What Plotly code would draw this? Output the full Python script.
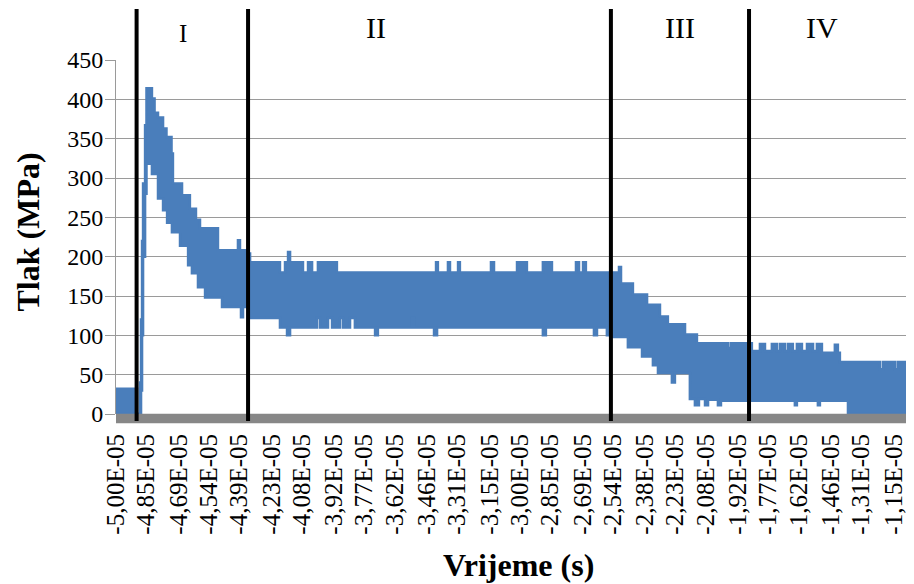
import plotly.graph_objects as go

# Time in units of 1E-05 s, pressure in MPa
upper_t = [-5.000, -4.896, -4.881, -4.876, -4.871, -4.866, -4.856, -4.849, -4.822, -4.809,
           -4.792, -4.767, -4.750, -4.725, -4.718, -4.673, -4.634, -4.604, -4.584, -4.495,
           -4.396, -4.386, -4.351, -4.336, -4.188, -4.163, -4.148, -4.138, -4.074, -4.049,
           -4.029, -4.000, -3.906, -3.415, -3.406, -3.356, -3.346, -3.306, -3.297, -3.143,
           -3.128, -3.014, -2.965, -2.886, -2.841, -2.722, -2.707, -2.687, -2.673, -2.509,
           -2.499, -2.440, -2.370, -2.306, -2.267, -2.182, -2.123, -1.969, -1.955, -1.851,
           -1.811, -1.786, -1.752, -1.727, -1.712, -1.687, -1.672, -1.648, -1.628, -1.603,
           -1.578, -1.548, -1.529, -1.504, -1.440, -1.425, -1.415, -1.217, -1.202, -1.142,
           -1.128, -1.048]
upper_p = [32, 0, 40, 120, 220, 293, 367, 414, 401, 383,
           377, 363, 352, 331, 293, 278, 261, 247, 236, 208,
           221, 208, 204, 193, 180, 193, 206, 193, 180, 193,
           180, 193, 180, 193, 180, 193, 180, 193, 180, 193,
           180, 193, 180, 193, 180, 193, 180, 193, 180, 187,
           166, 152, 139, 124, 114, 101, 90, 84, 90, 80,
           89, 80, 89, 80, 89, 80, 89, 80, 89, 80,
           89, 80, 89, 78, 88, 78, 66, 57, 66, 57,
           66, 66]

lower_t = [-5.000, -4.881, -4.876, -4.871, -4.866, -4.856, -4.849, -4.822, -4.792, -4.767,
           -4.747, -4.723, -4.683, -4.643, -4.624, -4.594, -4.559, -4.475, -4.381, -4.371,
           -4.346, -4.188, -4.153, -4.138, -4.005, -3.990, -3.950, -3.930, -3.891, -3.876,
           -3.841, -3.817, -3.717, -3.703, -3.534, -3.524, -3.425, -3.410, -2.886, -2.871,
           -2.633, -2.618, -2.569, -2.549, -2.465, -2.395, -2.341, -2.316, -2.247, -2.232,
           -2.158, -2.133, -2.113, -2.083, -2.068, -2.019, -2.004, -1.638, -1.628, -1.524,
           -1.514, -1.375, -1.048]
lower_p = [0, 0, 30, 100, 200, 280, 318, 305, 274, 259,
           243, 231, 214, 189, 179, 161, 148, 136, 123, 136,
           122, 110, 100, 110, 122, 110, 122, 110, 122, 110,
           122, 110, 100, 110, 122, 110, 100, 110, 100, 110,
           100, 110, 100, 98, 85, 73, 62, 52, 40, 52,
           19, 11, 19, 11, 18, 11, 17, 11, 17, 11,
           17, 0, 0]

phase_bounds = [-4.898, -4.346, -2.549, -1.865]
phase_names = ["I", "II", "III", "IV"]

tick_vals = [-5.00, -4.85, -4.69, -4.54, -4.39, -4.23, -4.08, -3.92, -3.77, -3.62,
             -3.46, -3.31, -3.15, -3.00, -2.85, -2.69, -2.54, -2.38, -2.23, -2.08,
             -1.92, -1.77, -1.62, -1.46, -1.31, -1.15]
tick_text = [f"{v:.2f}".replace(".", ",") + "E-05" for v in tick_vals]

BLUE = "#4a7ebb"
FONT = "Times New Roman, Liberation Serif, Times, serif"

fig = go.Figure()
fig.add_trace(go.Scatter(x=upper_t, y=upper_p, mode="lines", line=dict(color=BLUE, width=2.5, shape="hv"),
                         hoverinfo="skip", showlegend=False))
fig.add_trace(go.Scatter(x=lower_t, y=lower_p, mode="lines", line=dict(color=BLUE, width=2.5, shape="hv"),
                         fill="tonexty", fillcolor=BLUE, hoverinfo="skip", showlegend=False))

shapes = [dict(type="rect", xref="paper", yref="paper", x0=0, x1=1, y0=-0.026, y1=0.001,
               fillcolor="#878787", line=dict(width=0), layer="above")]
for b in phase_bounds:
    shapes.append(dict(type="line", xref="x", yref="paper", x0=b, x1=b, y0=-0.02, y1=1.144,
                       line=dict(color="black", width=4), layer="above"))

label_pos = [(-4.668, 1.074, 25), (-3.712, 1.093, 30), (-2.207, 1.093, 30), (-1.504, 1.093, 30)]
annotations = []
for name, (lx, ly, fs) in zip(phase_names, label_pos):
    annotations.append(dict(x=lx, y=ly, xref="x", yref="paper", text=name, showarrow=False,
                            font=dict(family=FONT, size=fs, color="black"),
                            xanchor="center", yanchor="middle"))
annotations.append(dict(x=-0.1105, y=0.515, xref="paper", yref="paper", text="<b>Tlak (MPa)</b>",
                        textangle=-90, showarrow=False, font=dict(family=FONT, size=32, color="black"),
                        xanchor="center", yanchor="middle"))
annotations.append(dict(x=0.505, y=-0.427, xref="paper", yref="paper", text="<b>Vrijeme (s)</b>",
                        showarrow=False, font=dict(family=FONT, size=32, color="black"),
                        xanchor="center", yanchor="middle"))

fig.update_layout(
    width=906, height=576,
    margin=dict(l=108, r=0, t=52, b=170),
    paper_bgcolor="white", plot_bgcolor="white",
    shapes=shapes, annotations=annotations,
    xaxis=dict(range=[-5.0, -1.048], tickmode="array", tickvals=tick_vals, ticktext=tick_text,
               tickangle=-90, showgrid=False, zeroline=False, showline=False, ticks="",
               tickfont=dict(family=FONT, size=25, color="black"), ticklabelstandoff=14),
    yaxis=dict(range=[0, 450], dtick=50, tick0=0, showgrid=True, gridcolor="#9a9a9a", gridwidth=1,
               zeroline=False, showline=True, linecolor="#9a9a9a", linewidth=1,
               ticks="outside", ticklen=10, tickcolor="#9a9a9a",
               tickfont=dict(family=FONT, size=24, color="black"), ticklabelstandoff=-3),
)

fig.write_html("out.html")
